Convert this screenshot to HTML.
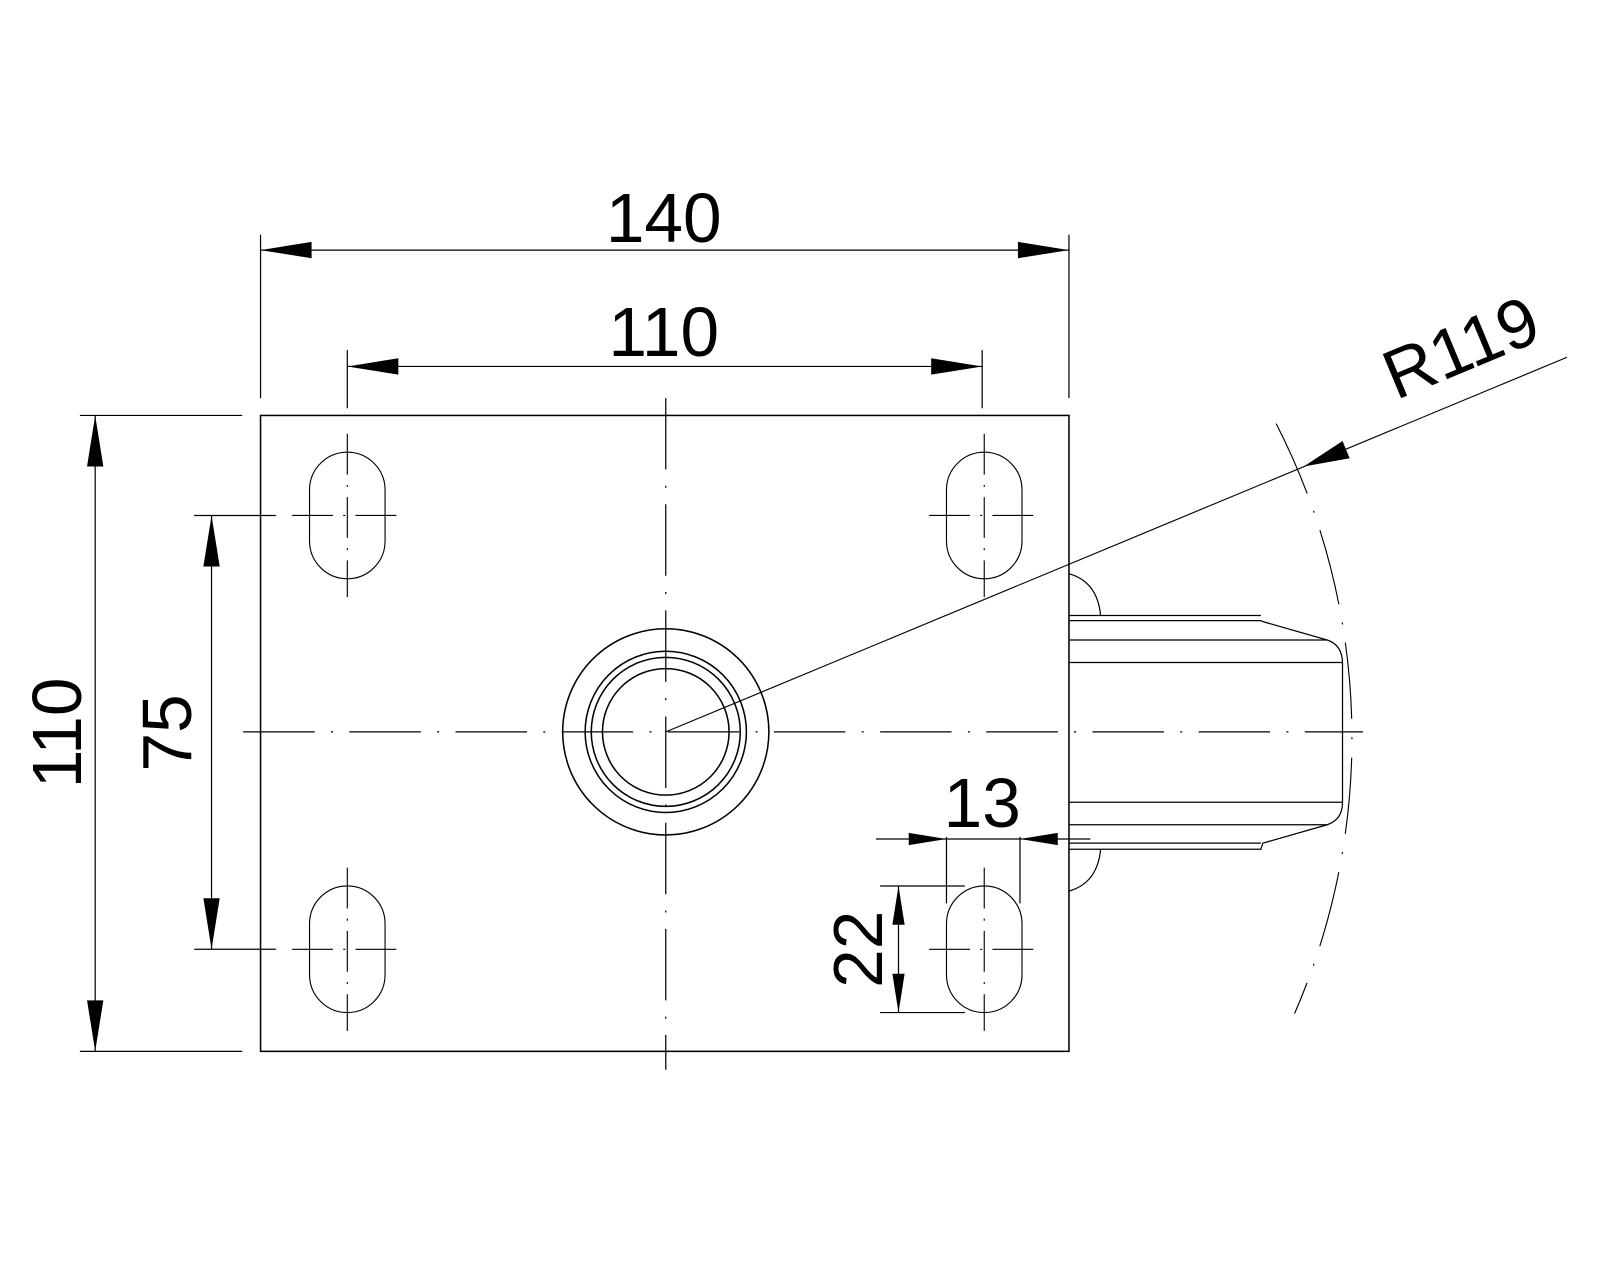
<!DOCTYPE html>
<html><head><meta charset="utf-8"><style>html,body{margin:0;padding:0;background:#fff}svg{display:block}</style></head>
<body>
<svg width="1600" height="1280" viewBox="0 0 1567 1254" xmlns="http://www.w3.org/2000/svg" font-family="Liberation Sans, sans-serif">
<rect width="1567" height="1254" fill="#fff"/>
<g stroke="#000" fill="none" stroke-width="1.5">
<rect x="255" y="407" width="792" height="623"/>
<g stroke-width="1.2" stroke-dasharray="70 16 2 16">
<line x1="238" y1="717" x2="1335" y2="717"/>
<line x1="652" y1="390" x2="652" y2="1048"/>
</g>
<circle cx="652" cy="717" r="101"/>
<circle cx="652" cy="717" r="79"/>
<circle cx="652" cy="717" r="73"/>
<circle cx="652" cy="717" r="62"/>
<g stroke-width="1.1">
<rect x="303" y="443" width="74" height="124" rx="37" ry="37"/>
<rect x="927" y="443" width="74" height="124" rx="37" ry="37"/>
<rect x="303" y="868" width="74" height="124" rx="37" ry="37"/>
<rect x="927" y="868" width="74" height="124" rx="37" ry="37"/>
</g>
<g stroke-width="1.1" stroke-dasharray="40 10 2 10">
<line x1="286" y1="505" x2="394" y2="505"/><line x1="340" y1="425" x2="340" y2="585"/>
<line x1="910" y1="505" x2="1018" y2="505"/><line x1="964" y1="425" x2="964" y2="585"/>
<line x1="286" y1="930" x2="394" y2="930"/><line x1="340" y1="850" x2="340" y2="1010"/>
<line x1="910" y1="930" x2="1018" y2="930"/><line x1="964" y1="850" x2="964" y2="1010"/>
</g>
<g stroke-width="1.2">
<path d="M1047 603 H1235 M1047 608 H1235 L1237 609 L1300 627 Q1315 632 1315 650 V786 Q1315 803 1300 808 L1237 826 L1235 832 H1047 M1047 826 H1235"/>
<path d="M1047 627 H1300 M1047 649 H1315 M1047 786 H1315 M1047 808 H1300"/>
<path d="M1047 562 Q1075 570 1078 603"/>
<path d="M1047 873 Q1075 865 1078 832"/>
</g>
<path d="M1250 415 A676 676 0 0 1 1268 993" stroke-width="1.1" stroke-dasharray="75 18 2 18"/>
<line x1="652" y1="717" x2="1535" y2="350" stroke-width="1.1"/>
<g stroke-width="1.2">
<line x1="255" y1="230" x2="255" y2="390"/><line x1="1047" y1="230" x2="1047" y2="390"/>
<line x1="255" y1="245" x2="1047" y2="245"/>
<line x1="340" y1="343" x2="340" y2="400"/><line x1="962" y1="343" x2="962" y2="400"/>
<line x1="340" y1="359" x2="962" y2="359"/>
<line x1="78" y1="407" x2="237" y2="407"/><line x1="78" y1="1030" x2="237" y2="1030"/>
<line x1="93" y1="407" x2="93" y2="1030"/>
<line x1="190" y1="505" x2="270" y2="505"/><line x1="190" y1="930" x2="270" y2="930"/>
<line x1="207" y1="505" x2="207" y2="930"/>
<line x1="927" y1="820" x2="927" y2="885"/><line x1="999" y1="820" x2="999" y2="885"/>
<line x1="858" y1="822" x2="1068" y2="822"/>
<line x1="862" y1="868" x2="945" y2="868"/><line x1="862" y1="992" x2="945" y2="992"/>
<line x1="880" y1="868" x2="880" y2="992"/>
</g>
</g>
<g fill="#000">
<polygon points="255,245 305,237 305,253"/><polygon points="1047,245 997,237 997,253"/>
<polygon points="340,359 390,351 390,367"/><polygon points="962,359 912,351 912,367"/>
<polygon points="93,407 85,457 101,457"/><polygon points="93,1030 85,980 101,980"/>
<polygon points="207,505 199,555 215,555"/><polygon points="207,930 199,880 215,880"/>
<polygon points="927,822 890,816 890,828"/><polygon points="999,822 1036,816 1036,828"/>
<polygon points="880,868 874,906 886,906"/><polygon points="880,992 874,954 886,954"/>
<polygon points="1277,457 1315,432 1322,449"/>
</g>
<g fill="#000" font-size="68" text-anchor="middle">
<text x="650" y="237">140</text>
<text x="650" y="349">110</text>
<text x="962" y="810">13</text>
<text transform="translate(79,718) rotate(-90)">110</text>
<text transform="translate(187,718) rotate(-90)">75</text>
<text transform="translate(864,930) rotate(-90)">22</text>
<text transform="translate(1440,362) rotate(-22.6)">R119</text>
</g>
</svg>
</body></html>
